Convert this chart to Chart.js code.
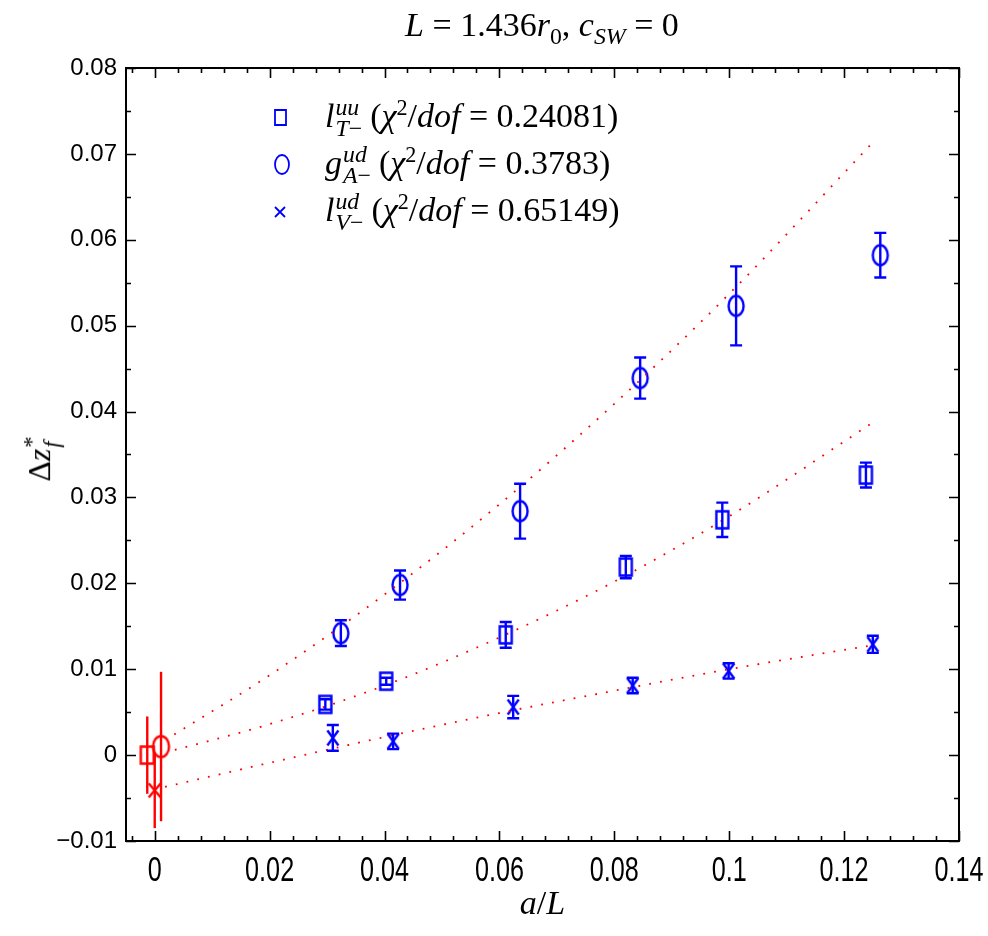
<!DOCTYPE html>
<html>
<head>
<meta charset="utf-8">
<script src="https://cdn.jsdelivr.net/npm/chart.js@4.4.1/dist/chart.umd.min.js"></script>
<style>
  html, body { margin:0; padding:0; background:#fff; }
  #wrap { position:relative; width:988px; height:936px; }
  canvas#c { position:absolute; left:0; top:0; }
  .m { font-family:"Liberation Serif","DejaVu Serif",serif; color:#000; position:absolute; white-space:nowrap; }
  .i { font-style:italic; }
  .ss { display:inline-flex; flex-direction:column; vertical-align:middle; line-height:0.9; font-size:0.7em; margin-left:1px; margin-right:8px; position:relative; top:-1px; }
  .ss > span { display:block; }
  #title { left:0; width:1084px; text-align:center; top:6px; font-size:34px; }
  #xlab { left:126px; width:833px; text-align:center; top:884px; font-size:34px; }
  #ylab { left:42px; top:455px; font-size:32px; transform:translate(-50%,-50%) rotate(-90deg); }
  #legend { left:272px; top:94px; font-size:34px; }
  .row { height:47px; display:flex; align-items:center; }
</style>
</head>
<body>
<div id="wrap">
  <canvas id="c" width="988" height="936"></canvas>
  <div id="title" class="m"><span class="i">L</span> = 1.436<span class="i">r</span><sub style="font-size:0.7em">0</sub>, <span class="i">c</span><sub class="i" style="font-size:0.7em">SW</sub> = 0</div>
  <div id="xlab" class="m"><span class="i">a</span>/<span class="i">L</span></div>
  <div id="ylab" class="m">Δ<span class="i">z</span><span class="ss"><span>*</span><span class="i">f</span></span></div>
  <div id="legend" class="m"></div>
</div>
<script>
// ---------- data ----------
// l_T-^uu (squares)
const xT = [0.0297, 0.0403, 0.0611, 0.0820, 0.0988, 0.1238];
const yT = [0.0059, 0.0086, 0.0140, 0.0219, 0.0274, 0.0326];
const eT = [0.0006, 0.0004, 0.0015, 0.0013, 0.0020, 0.00145];
// g_A-^ud (circles)
const xA = [0.0324, 0.0427, 0.0636, 0.0845, 0.1012, 0.1263];
const yA = [0.0142, 0.0198, 0.0284, 0.0439, 0.0523, 0.0582];
const eA = [0.0015, 0.0017, 0.0032, 0.0024, 0.0046, 0.0026];
// l_V-^ud (crosses)
const xV = [0.0310, 0.0415, 0.0624, 0.0832, 0.0999, 0.1250];
const yV = [0.0020, 0.0016, 0.0056, 0.0081, 0.0098, 0.0129];
const eV = [0.0015, 0.0009, 0.0013, 0.0009, 0.0009, 0.0010];
// continuum-extrapolated values (red)
const xT0 = [-0.0013], yT0 = [0.0000], eT0 = [0.0045];
const xA0 = [0.0011],  yA0 = [0.0010], eA0 = [0.0087];
const xV0 = [0.0000],  yV0 = [-0.0041], eV0 = [0.0044];
// fit curves (red dotted)
const fitTx = [0.0035, 0.02, 0.04, 0.06, 0.08, 0.10, 0.1245];
const fitTy = [0.0006, 0.0036, 0.0081, 0.0137, 0.0202, 0.0278, 0.0385];
const fitAx = [0.0034, 0.02, 0.04, 0.06, 0.08, 0.10, 0.1248];
const fitAy = [0.0024, 0.0093, 0.0187, 0.0292, 0.0409, 0.0537, 0.0712];
const fitVx = [0.0018, 0.02, 0.04, 0.06, 0.08, 0.10, 0.1250];
const fitVy = [-0.0037, -0.0009, 0.0021, 0.0049, 0.0075, 0.0100, 0.0128];
// legend
const legendNames = [
  ['l','uu','T−','0.24081'],
  ['g','ud','A−','0.3783'],
  ['l','ud','V−','0.65149']
];
// ticks
const xTickValues = [0, 0.02, 0.04, 0.06, 0.08, 0.1, 0.12, 0.14];
const xTickLabels = ['0','0.02','0.04','0.06','0.08','0.1','0.12','0.14'];
const yTickValues = [-0.01, 0, 0.01, 0.02, 0.03, 0.04, 0.05, 0.06, 0.07, 0.08];
const yTickLabels = ['−0.01','0','0.01','0.02','0.03','0.04','0.05','0.06','0.07','0.08'];

// ---------- markers ----------
const BLUE = '#0000ff', RED = '#ff0000';
function makeMarker(type, color, w, h, lw) {
  const c = document.createElement('canvas');
  const W = Math.ceil(w + 2*lw + 2), H = Math.ceil(h + 2*lw + 2);
  c.width = W; c.height = H;
  const g = c.getContext('2d');
  g.strokeStyle = color; g.lineWidth = lw;
  const cx = W/2, cy = H/2;
  g.beginPath();
  if (type === 'rect') {
    g.rect(cx - w/2, cy - h/2, w, h);
  } else if (type === 'ellipse') {
    g.ellipse(cx, cy, w/2, h/2, 0, 0, Math.PI*2);
  } else {
    g.moveTo(cx - w/2, cy - h/2); g.lineTo(cx + w/2, cy + h/2);
    g.moveTo(cx + w/2, cy - h/2); g.lineTo(cx - w/2, cy + h/2);
  }
  g.stroke();
  return c;
}
const mk = {
  rectB: makeMarker('rect', BLUE, 12, 17, 2.4),
  ellB: makeMarker('ellipse', BLUE, 15, 20, 2.4),
  crossB: makeMarker('cross', BLUE, 11, 15, 2.4),
  rectR: makeMarker('rect', RED, 13, 17, 2.4),
  ellR: makeMarker('ellipse', RED, 16, 21, 2.4),
  crossR: makeMarker('cross', RED, 12, 14, 2.4)
};
const pts = (xs, ys) => xs.map((x, i) => ({x, y: ys[i]}));

function markerSet(xs, ys, errs, img, color, cap) {
  return { type:'scatter', data: pts(xs, ys), pointStyle: img, pointRadius: 10,
           showLine:false, errs, errColor: color, cap, borderColor: color, backgroundColor: color };
}
function fitSet(xs, ys) {
  return { type:'line', data: pts(xs, ys), borderColor: RED, borderWidth: 1.8,
           borderDash: [1.8, 9.2], pointRadius: 0, fill:false,
           cubicInterpolationMode:'monotone', borderCapStyle:'butt' };
}

// ---------- legend ----------
const leg = document.getElementById('legend');
const legImgs = [makeMarker('rect', BLUE, 11, 15, 1.8), makeMarker('ellipse', BLUE, 14, 19, 1.8), makeMarker('cross', BLUE, 10, 10, 1.8)];
legendNames.forEach((n, i) => {
  const row = document.createElement('div'); row.className = 'row';
  const holder = document.createElement('span');
  holder.style.display = 'inline-flex'; holder.style.width = '53px';
  holder.appendChild(legImgs[i]);
  row.appendChild(holder);
  const t = document.createElement('span');
  t.innerHTML = '<span class="i">' + n[0] + '</span><span class="ss"><span class="i">' + n[1] +
    '</span><span><span class="i">' + n[2].slice(0,1) + '</span>' + n[2].slice(1) + '</span></span>' +
    '(<span class="i">χ</span><sup style="font-size:0.65em">2</sup>/<span class="i">dof</span> = ' + n[3] + ')';
  row.appendChild(t);
  leg.appendChild(row);
});

// ---------- plugins ----------
const errorBars = {
  id: 'errorBars',
  afterDatasetsDraw(chart) {
    const g = chart.ctx, xs = chart.scales.x, ys = chart.scales.y;
    chart.data.datasets.forEach(ds => {
      if (!ds.errs) return;
      g.save();
      g.strokeStyle = ds.errColor; g.lineWidth = 2.4;
      ds.data.forEach((p, i) => {
        const px = xs.getPixelForValue(p.x);
        const y1 = ys.getPixelForValue(p.y - ds.errs[i]);
        const y2 = ys.getPixelForValue(p.y + ds.errs[i]);
        g.beginPath(); g.moveTo(px, y1); g.lineTo(px, y2);
        if (ds.cap) {
          g.moveTo(px - ds.cap, y1); g.lineTo(px + ds.cap, y1);
          g.moveTo(px - ds.cap, y2); g.lineTo(px + ds.cap, y2);
        }
        g.stroke();
      });
      g.restore();
    });
  }
};
const frame = {
  id: 'frame',
  afterDraw(chart) {
    const g = chart.ctx, a = chart.chartArea, xs = chart.scales.x, ys = chart.scales.y;
    g.save();
    g.strokeStyle = '#000'; g.lineWidth = 2;
    g.strokeRect(a.left, a.top, a.right - a.left, a.bottom - a.top);
    g.lineWidth = 1.6;
    for (let k = -1; k <= 35; k++) {
      const v = k * 0.004;
      if (v < xs.min - 1e-9 || v > xs.max + 1e-9) continue;
      const px = Math.round(xs.getPixelForValue(v)) + 0.5;
      const major = xTickValues.some(t => Math.abs(t - v) < 1e-9);
      const L = major ? 10 : 5;
      g.beginPath();
      g.moveTo(px, a.bottom); g.lineTo(px, a.bottom - L);
      g.moveTo(px, a.top); g.lineTo(px, a.top + L);
      g.stroke();
    }
    for (let k = -2; k <= 16; k++) {
      const v = k * 0.005;
      if (v < ys.min - 1e-9 || v > ys.max + 1e-9) continue;
      const py = Math.round(ys.getPixelForValue(v)) + 0.5;
      const L = (k % 2 === 0) ? 10 : 5;
      g.beginPath();
      g.moveTo(a.left, py); g.lineTo(a.left + L, py);
      g.moveTo(a.right, py); g.lineTo(a.right - L, py);
      g.stroke();
    }
    // x tick labels: narrow, tall sans-serif as in the reference
    g.fillStyle = '#000';
    g.font = "35px 'Liberation Sans', Arial, sans-serif";
    g.textAlign = 'center'; g.textBaseline = 'top';
    xTickValues.forEach((v, i) => {
      const px = xs.getPixelForValue(v);
      g.save();
      g.translate(px, a.bottom + 13);
      g.scale(0.72, 1);
      g.fillText(xTickLabels[i], 0, 0);
      g.restore();
    });
    g.restore();
  }
};

// ---------- chart ----------
new Chart(document.getElementById('c'), {
  type: 'scatter',
  data: {
    datasets: [
      fitSet(fitAx, fitAy),
      fitSet(fitTx, fitTy),
      fitSet(fitVx, fitVy),
      markerSet(xT, yT, eT, mk.rectB, BLUE, 6),
      markerSet(xA, yA, eA, mk.ellB, BLUE, 6),
      markerSet(xV, yV, eV, mk.crossB, BLUE, 6),
      markerSet(xT0, yT0, eT0, mk.rectR, RED, 0),
      markerSet(xA0, yA0, eA0, mk.ellR, RED, 0),
      markerSet(xV0, yV0, eV0, mk.crossR, RED, 0)
    ]
  },
  options: {
    responsive: false, animation: false, devicePixelRatio: 1,
    layout: { padding: { top: 68, right: 29, left: 0, bottom: 0 } },
    plugins: { legend: { display: false }, tooltip: { enabled: false }, title: { display: false } },
    scales: {
      x: {
        type: 'linear', min: -0.005, max: 0.14,
        afterFit(s) { s.height = 95; s.paddingLeft = 0; s.paddingRight = 0; },
        afterBuildTicks(s) { s.ticks = xTickValues.map(v => ({ value: v })); },
        ticks: { display: false },
        grid: { display: false, drawTicks: false },
        border: { display: false }
      },
      y: {
        type: 'linear', min: -0.01, max: 0.08,
        afterFit(s) { s.width = 126; s.paddingTop = 0; s.paddingBottom = 0; },
        afterBuildTicks(s) { s.ticks = yTickValues.map(v => ({ value: v })); },
        ticks: {
          autoSkip: false, padding: 9, color: '#000',
          font: { family: "'Liberation Sans',Arial,sans-serif", size: 24 },
          callback: (v, i) => yTickLabels[i]
        },
        grid: { display: false, drawTicks: false },
        border: { display: false }
      }
    }
  },
  plugins: [errorBars, frame]
});
</script>
</body>
</html>
